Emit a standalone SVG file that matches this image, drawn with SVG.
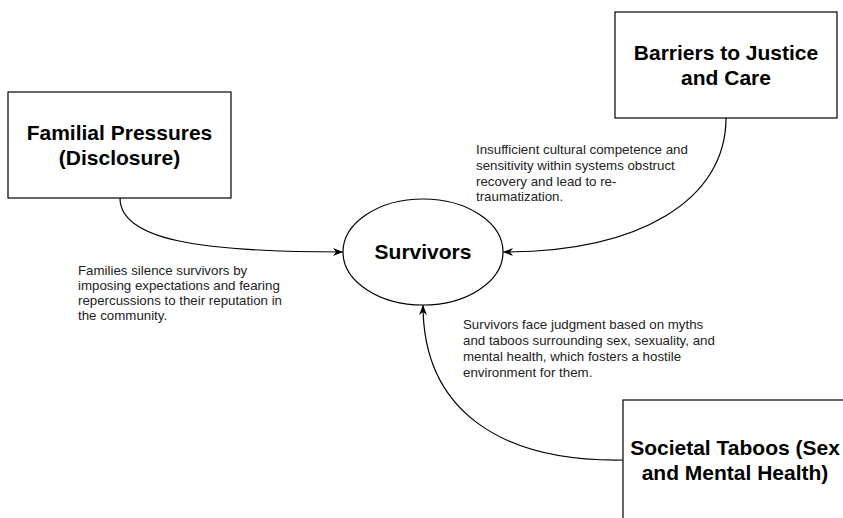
<svg xmlns="http://www.w3.org/2000/svg" width="843" height="518" viewBox="0 0 843 518">
<style>
.box{fill:#fff;stroke:#000;stroke-width:1.2}
.title{font-family:"Liberation Sans",Arial,Helvetica,sans-serif;font-weight:bold;font-size:21px;fill:#000;text-anchor:middle}
.lbl{font-family:"Liberation Sans",Arial,Helvetica,sans-serif;font-size:13.3px;fill:#222}
.edge{fill:none;stroke:#000;stroke-width:1.2;marker-end:url(#arr)}
</style>
<defs>
<marker id="arr" markerUnits="userSpaceOnUse" viewBox="0 0 10 8" refX="10" refY="4" markerWidth="10" markerHeight="8" orient="auto">
<path d="M0,0 L10,4 L0,8 L3,4 Z" fill="#000"/>
</marker>
</defs>
<rect width="843" height="518" fill="#fff"/>
<g id="connectors">
<path class="edge" d="M120,198 C120,240 200,252 343,252"/>
<path class="edge" d="M726,118 C726,200 640,252 503,252"/>
<path class="edge" d="M623,460 C500,462 423,410 423,305"/>
</g>
<g id="node-familial">
<rect class="box" x="8" y="92" width="223" height="106"/>
<text class="title" x="119.5" y="140">Familial Pressures</text>
<text class="title" x="119.5" y="165">(Disclosure)</text>
</g>
<g id="node-barriers">
<rect class="box" x="615" y="12" width="222" height="106"/>
<text class="title" x="726" y="60">Barriers to Justice</text>
<text class="title" x="726" y="85">and Care</text>
</g>
<g id="node-societal">
<rect class="box" x="623" y="400" width="224" height="125"/>
<text class="title" x="735" y="455">Societal Taboos (Sex</text>
<text class="title" x="735" y="480">and Mental Health)</text>
</g>
<g id="node-survivors">
<ellipse class="box" cx="423" cy="252" rx="80" ry="53"/>
<text class="title" x="423" y="259">Survivors</text>
</g>
<g id="label-familial">
<text class="lbl" x="78" y="275">Families silence survivors by</text>
<text class="lbl" x="78" y="290">imposing expectations and fearing</text>
<text class="lbl" x="78" y="305">repercussions to their reputation in</text>
<text class="lbl" x="78" y="320">the community.</text>
</g>
<g id="label-barriers">
<text class="lbl" x="476" y="154">Insufficient cultural competence and</text>
<text class="lbl" x="476" y="170">sensitivity within systems obstruct</text>
<text class="lbl" x="476" y="186">recovery and lead to re-</text>
<text class="lbl" x="476" y="201">traumatization.</text>
</g>
<g id="label-societal">
<text class="lbl" x="463" y="329">Survivors face judgment based on myths</text>
<text class="lbl" x="463" y="345">and taboos surrounding sex, sexuality, and</text>
<text class="lbl" x="463" y="361">mental health, which fosters a hostile</text>
<text class="lbl" x="463" y="377">environment for them.</text>
</g>
</svg>
